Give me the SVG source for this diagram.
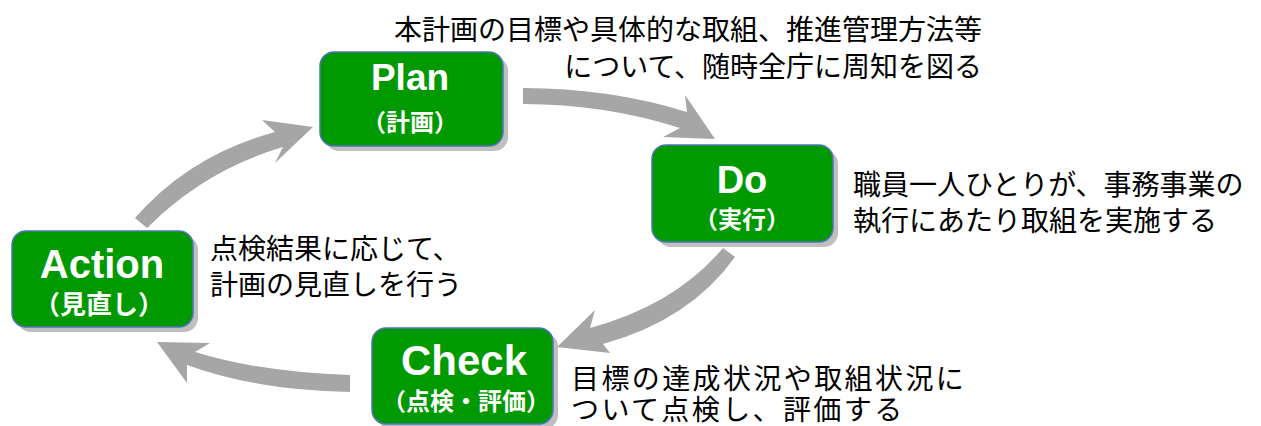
<svg xmlns="http://www.w3.org/2000/svg" width="1261" height="426" viewBox="0 0 1261 426">
<style>
.shadow{fill:#bfbfbf}
.box{fill:#009900;stroke:#4f74b8;stroke-width:1.5}
.title{font-family:"Liberation Sans",Arial,sans-serif;font-weight:bold;fill:#ffffff;text-anchor:middle}
.sub{font-family:"Noto Sans CJK JP",sans-serif;font-weight:bold;fill:#ffffff;text-anchor:middle}
.note{font-family:"Noto Sans CJK JP",sans-serif;font-size:28px;fill:#000000}
.arrow{fill:#a6a6a6}
</style>
<rect width="1261" height="426" fill="#ffffff"/>
<g id="connectors">
<path class="arrow" d="M523,88 Q610,88 687,112 L685,95 L715,139 L663,137 L680,128 Q605,104 523,104 Z"/>
<path class="arrow" d="M735,257 Q690,320 603,344 L610,353 L557,347 L595,310 L590,328 Q675,305 723,248 Z"/>
<path class="arrow" d="M350,375 Q260,372 195,352 L210,343 L157,342 L187,383 L187,365 Q255,390 350,392 Z"/>
<path class="arrow" d="M135,218 Q190,155 275,132 L262,120 L313,127 L275,163 L283,147 Q205,170 147,228 Z"/>
</g>
<g id="node-plan">
<rect class="shadow" x="325" y="57" width="183" height="94" rx="14"/>
<rect class="box" x="320" y="52" width="183" height="94" rx="14"/>
<text class="title" x="410" y="90" font-size="37">Plan</text>
<text class="sub" x="410" y="131" font-size="24">（計画）</text>
</g>
<g id="node-do">
<rect class="shadow" x="657" y="150" width="181" height="97" rx="14"/>
<rect class="box" x="652" y="145" width="181" height="97" rx="14"/>
<text class="title" x="742" y="193" font-size="38">Do</text>
<text class="sub" x="742" y="228" font-size="24">（実行）</text>
</g>
<g id="node-action">
<rect class="shadow" x="17" y="236" width="181" height="96" rx="14"/>
<rect class="box" x="12" y="231" width="181" height="96" rx="14"/>
<text class="title" x="102" y="278" font-size="40">Action</text>
<text class="sub" x="99" y="314" font-size="26">（見直し）</text>
</g>
<g id="node-check">
<rect class="shadow" x="377" y="333" width="181" height="96" rx="14"/>
<rect class="box" x="372" y="328" width="181" height="96" rx="14"/>
<text class="title" x="464" y="375" font-size="42">Check</text>
<text class="sub" x="466" y="410" font-size="24">（点検・評価）</text>
</g>
<g id="notes">
<text class="note" x="982" y="40" text-anchor="end">本計画の目標や具体的な取組、推進管理方法等</text>
<text class="note" x="982" y="77" text-anchor="end">について、随時全庁に周知を図る</text>
<text class="note" x="853" y="195">職員一人ひとりが、事務事業の</text>
<text class="note" x="853" y="231">執行にあたり取組を実施する</text>
<text class="note" x="210" y="259">点検結果に応じて、</text>
<text class="note" x="210" y="295">計画の見直しを行う</text>
<text class="note" x="571" y="389" letter-spacing="2.4">目標の達成状況や取組状況に</text>
<text class="note" x="571" y="420" letter-spacing="2.4">ついて点検し、評価する</text>
</g>
</svg>
